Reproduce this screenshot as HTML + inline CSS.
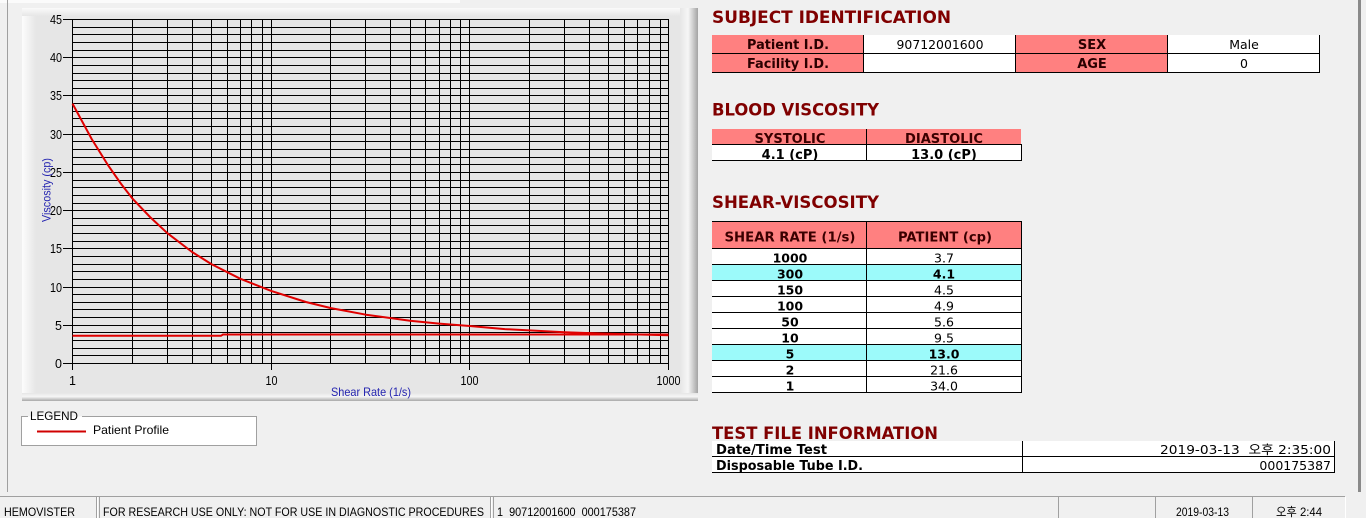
<!DOCTYPE html>
<html><head><meta charset="utf-8">
<style>
html,body{margin:0;padding:0;background:#f0f0f0;}
body{width:1366px;height:518px;overflow:hidden;}
svg{display:block;}
.ls{font-family:"Liberation Sans",Arial,sans-serif;}
.dj{font-family:"DejaVu Sans","Liberation Sans","Noto Sans CJK KR",sans-serif;}
.kr{font-family:"Liberation Sans","Noto Sans CJK KR",sans-serif;}
.hd{font-family:"DejaVu Sans","Liberation Sans",sans-serif;font-weight:bold;font-size:17px;fill:#800000;}
</style></head>
<body>
<svg width="1366" height="518" viewBox="0 0 1366 518" xmlns="http://www.w3.org/2000/svg">
<defs>
<linearGradient id="gl" x1="0" y1="0" x2="1" y2="0"><stop offset="0" stop-color="#fcfcfc"/><stop offset="1" stop-color="#e6e6e6"/></linearGradient>
<linearGradient id="gt" x1="0" y1="0" x2="0" y2="1"><stop offset="0" stop-color="#fafafa"/><stop offset="1" stop-color="#e6e6e6"/></linearGradient>
<linearGradient id="gr" x1="0" y1="0" x2="1" y2="0"><stop offset="0" stop-color="#e6e6e6"/><stop offset="0.45" stop-color="#f6f6f6"/><stop offset="1" stop-color="#a4a4a4"/></linearGradient>
<linearGradient id="gb" x1="0" y1="0" x2="0" y2="1"><stop offset="0" stop-color="#e6e6e6"/><stop offset="0.45" stop-color="#f6f6f6"/><stop offset="1" stop-color="#a8a8a8"/></linearGradient>
</defs>
<rect x="0" y="0" width="1366" height="518" fill="#f0f0f0"/>
<rect x="0" y="0" width="460" height="3" fill="#fbfbfb"/>
<!-- window edges -->
<rect x="7" y="0" width="1" height="492" fill="#a0a0a0"/>
<rect x="1358" y="0" width="3" height="492" fill="#8a8a8a"/>

<!-- chart panel -->
<rect x="22" y="8" width="676" height="393" fill="#e6e6e6"/>
<rect x="22" y="8" width="14" height="393" fill="url(#gl)"/>
<rect x="22" y="8" width="676" height="8" fill="url(#gt)"/>
<rect x="680" y="8" width="18" height="393" fill="url(#gr)"/>
<rect x="22" y="393" width="676" height="8" fill="url(#gb)"/>

<!-- grid -->
<path stroke="#000" stroke-width="1" fill="none" d="
M72,19.5H669M72,27.5H669M72,34.5H669M72,42.5H669M72,50.5H669M72,57.5H669M72,65.5H669M72,73.5H669M72,80.5H669M72,88.5H669
M72,95.5H669M72,103.5H669M72,111.5H669M72,118.5H669M72,126.5H669M72,134.5H669M72,141.5H669M72,149.5H669M72,157.5H669M72,164.5H669
M72,172.5H669M72,180.5H669M72,187.5H669M72,195.5H669M72,203.5H669M72,210.5H669M72,218.5H669M72,225.5H669M72,233.5H669M72,241.5H669
M72,248.5H669M72,256.5H669M72,264.5H669M72,271.5H669M72,279.5H669M72,287.5H669M72,294.5H669M72,302.5H669M72,309.5H669M72,317.5H669
M72,325.5H669M72,332.5H669M72,340.5H669M72,348.5H669M72,355.5H669M72,363.5H669
M72.5,19V364M132.5,19V364M167.5,19V364M192.5,19V364M211.5,19V364M227.5,19V364M240.5,19V364M251.5,19V364M262.5,19V364M271.5,19V364
M330.5,19V364M365.5,19V364M390.5,19V364M410.5,19V364M425.5,19V364M439.5,19V364M450.5,19V364M460.5,19V364M469.5,19V364
M529.5,19V364M564.5,19V364M589.5,19V364M608.5,19V364M624.5,19V364M637.5,19V364M649.5,19V364M660.5,19V364M668.5,19V364
"/>
<!-- ticks -->
<path stroke="#000" stroke-width="1" fill="none" d="M63,19.5H72M63,57.5H72M63,95.5H72M63,134.5H72M63,172.5H72M63,210.5H72M63,248.5H72M63,287.5H72M63,325.5H72M63,363.5H72
M72.5,364V370M271.5,364V370M469.5,364V370M668.5,364V370"/>
<g class="ls" font-size="12.5" fill="#000" text-anchor="end">
<text x="62" y="24" textLength="12" lengthAdjust="spacingAndGlyphs">45</text>
<text x="62" y="62" textLength="12" lengthAdjust="spacingAndGlyphs">40</text>
<text x="62" y="100" textLength="12" lengthAdjust="spacingAndGlyphs">35</text>
<text x="62" y="139" textLength="12" lengthAdjust="spacingAndGlyphs">30</text>
<text x="62" y="177" textLength="12" lengthAdjust="spacingAndGlyphs">25</text>
<text x="62" y="215" textLength="12" lengthAdjust="spacingAndGlyphs">20</text>
<text x="62" y="253" textLength="12" lengthAdjust="spacingAndGlyphs">15</text>
<text x="62" y="292" textLength="12" lengthAdjust="spacingAndGlyphs">10</text>
<text x="62" y="330">5</text>
<text x="62" y="368">0</text>
</g>
<g class="ls" font-size="12.5" fill="#000" text-anchor="middle">
<text x="72.5" y="385">1</text>
<text x="271.5" y="385" textLength="12" lengthAdjust="spacingAndGlyphs">10</text>
<text x="469.5" y="385" textLength="18" lengthAdjust="spacingAndGlyphs">100</text>
<text x="668.5" y="385" textLength="24" lengthAdjust="spacingAndGlyphs">1000</text>
</g>
<text class="ls" font-size="12" fill="#2424b0" x="331" y="396" textLength="80" lengthAdjust="spacingAndGlyphs">Shear Rate (1/s)</text>
<text class="ls" font-size="12" fill="#2424b0" transform="translate(50.5,222) rotate(-90)" x="0" y="0" textLength="64" lengthAdjust="spacingAndGlyphs">Viscosity (cp)</text>

<!-- series -->
<path fill="none" stroke="#e00000" stroke-width="2" stroke-linejoin="round" d="M72.5,103.6 L91.75,139.1 L107.5,164.4 L120.8,183.5 L132.3,198.4 L150,217 L167.4,233.2 L192.1,252.0 L211.4,264.1 L240.4,278.8 L271.2,290.9 L305.9,302.0 L331,308.1 L366,314.7 L410,320.7 L439.1,323.6 L469.8,326.0 L504.8,329.1 L564.6,332.2 L608.7,333.7 L668.5,335.2"/>
<path fill="none" stroke="#e00000" stroke-width="2" d="M72.5,335.8 H221 L223,334.5 H668.5"/>

<!-- legend -->
<rect x="21.5" y="416.5" width="235" height="29" fill="#ffffff"/>
<path fill="none" stroke="#a0a0a0" d="M28,416.5H21.5V445.5H256.5V416.5H82"/>
<text class="ls" font-size="12" fill="#000" x="30" y="420" textLength="48" lengthAdjust="spacingAndGlyphs">LEGEND</text>
<path stroke="#d00000" stroke-width="2" d="M37,431.5H86"/>
<text class="ls" font-size="12" fill="#000" x="93" y="434" textLength="76" lengthAdjust="spacingAndGlyphs">Patient Profile</text>

<!-- SUBJECT IDENTIFICATION -->
<text class="hd" x="712" y="23" textLength="239" lengthAdjust="spacingAndGlyphs">SUBJECT IDENTIFICATION</text>
<rect x="712" y="35" width="151" height="38" fill="#ff8080"/>
<rect x="863" y="35" width="152" height="38" fill="#ffffff"/>
<rect x="1015" y="35" width="152" height="38" fill="#ff8080"/>
<rect x="1167" y="35" width="153" height="38" fill="#ffffff"/>
<path stroke="#000" fill="none" d="M712,53.5H1320M712,72.5H1320M863.5,35V73M1015.5,35V73M1167.5,35V73M1319.5,35V73"/>
<g class="dj" text-anchor="middle">
<text x="788" y="49" font-size="13" font-weight="bold" fill="#2a0000" textLength="82" lengthAdjust="spacingAndGlyphs">Patient I.D.</text>
<text x="788" y="68" font-size="13" font-weight="bold" fill="#2a0000" textLength="82" lengthAdjust="spacingAndGlyphs">Facility I.D.</text>
<text x="940" y="49" font-size="12.5" fill="#000" textLength="87" lengthAdjust="spacingAndGlyphs">90712001600</text>
<text x="1092" y="49" font-size="13" font-weight="bold" fill="#2a0000">SEX</text>
<text x="1092" y="68" font-size="13" font-weight="bold" fill="#2a0000">AGE</text>
<text x="1244" y="49" font-size="12.5" fill="#000">Male</text>
<text x="1244" y="68" font-size="12.5" fill="#000">0</text>
</g>

<!-- BLOOD VISCOSITY -->
<text class="hd" x="712" y="115.5" textLength="167" lengthAdjust="spacingAndGlyphs">BLOOD VISCOSITY</text>
<rect x="712" y="129" width="309" height="16" fill="#ff8080"/>
<rect x="712" y="145" width="309" height="15" fill="#ffffff"/>
<path stroke="#000" fill="none" d="M712,144.5H1022M712,160.5H1022M866.5,129V161M1021.5,145V161"/>
<g class="dj" text-anchor="middle" font-weight="bold" font-size="13">
<text x="790" y="143" fill="#3a0000" textLength="71" lengthAdjust="spacingAndGlyphs">SYSTOLIC</text>
<text x="944" y="143" fill="#3a0000" textLength="78" lengthAdjust="spacingAndGlyphs">DIASTOLIC</text>
<text x="790" y="159" fill="#000">4.1 (cP)</text>
<text x="944" y="159" fill="#000">13.0 (cP)</text>
</g>

<!-- SHEAR-VISCOSITY -->
<text class="hd" x="712" y="208" textLength="167" lengthAdjust="spacingAndGlyphs">SHEAR-VISCOSITY</text>
<rect x="712" y="222" width="309" height="26" fill="#ff8080"/>
<rect x="712" y="248" width="309" height="144" fill="#ffffff"/>
<rect x="712" y="265" width="309" height="15" fill="#9cfafa"/>
<rect x="712" y="345" width="309" height="15" fill="#9cfafa"/>
<path stroke="#000" fill="none" d="M712,221.5H1022M712,248.5H1022M712,264.5H1022M712,280.5H1022M712,296.5H1022M712,312.5H1022M712,328.5H1022M712,344.5H1022M712,360.5H1022M712,376.5H1022M712,392.5H1022M866.5,222V393M1021.5,222V393"/>
<g class="dj" text-anchor="middle">
<text x="790" y="241.5" font-size="13" font-weight="bold" fill="#3a0000" textLength="131" lengthAdjust="spacingAndGlyphs">SHEAR RATE (1/s)</text>
<text x="945" y="241.5" font-size="13" font-weight="bold" fill="#3a0000" textLength="94" lengthAdjust="spacingAndGlyphs">PATIENT (cp)</text>
<g font-size="12.5" font-weight="bold" fill="#000">
<text x="790" y="262.5">1000</text>
<text x="790" y="278.5">300</text>
<text x="790" y="294.5">150</text>
<text x="790" y="310.5">100</text>
<text x="790" y="326.5">50</text>
<text x="790" y="342.5">10</text>
<text x="790" y="358.5">5</text>
<text x="790" y="374.5">2</text>
<text x="790" y="390.5">1</text>
</g>
<g font-size="12.5" fill="#000">
<text x="944" y="262.5">3.7</text>
<text x="944" y="278.5" font-weight="bold">4.1</text>
<text x="944" y="294.5">4.5</text>
<text x="944" y="310.5">4.9</text>
<text x="944" y="326.5">5.6</text>
<text x="944" y="342.5">9.5</text>
<text x="944" y="358.5" font-weight="bold">13.0</text>
<text x="944" y="374.5">21.6</text>
<text x="944" y="390.5">34.0</text>
</g>
</g>

<!-- TEST FILE INFORMATION -->
<text class="hd" x="712" y="439" textLength="226" lengthAdjust="spacingAndGlyphs">TEST FILE INFORMATION</text>
<rect x="712" y="441" width="622" height="32" fill="#ffffff"/>
<path stroke="#000" fill="none" d="M712,456.5H1335M712,472.5H1335M1022.5,441V473M1334.5,441V473"/>
<g class="dj" font-size="13" font-weight="bold" fill="#000">
<text x="716" y="454" textLength="111" lengthAdjust="spacingAndGlyphs">Date/Time Test</text>
<text x="716" y="470" textLength="147" lengthAdjust="spacingAndGlyphs">Disposable Tube I.D.</text>
</g>
<g class="dj" font-size="12.5" fill="#000" text-anchor="end">
<text x="1331" y="454" textLength="171" lengthAdjust="spacingAndGlyphs" xml:space="preserve">2019-03-13  오후 2:35:00</text>
<text x="1331" y="470">000175387</text>
</g>

<!-- status bar -->
<path stroke="#a0a0a0" fill="none" d="M0,496.5H1345M96.5,497V518M99.5,497V518M490.5,497V518M493.5,497V518M1058.5,497V518M1155.5,497V518M1252.5,497V518"/>
<path stroke="#ffffff" fill="none" d="M97.5,497V518M491.5,497V518M1345.5,497V518"/>
<g class="kr" font-size="12" fill="#000">
<text x="4" y="516" textLength="71" lengthAdjust="spacingAndGlyphs">HEMOVISTER</text>
<text x="103" y="516" textLength="381" lengthAdjust="spacingAndGlyphs">FOR RESEARCH USE ONLY: NOT FOR USE IN DIAGNOSTIC PROCEDURES</text>
<text x="497" y="516" textLength="139" lengthAdjust="spacingAndGlyphs" xml:space="preserve">1  90712001600  000175387</text>
<text x="1176" y="516" textLength="53" lengthAdjust="spacingAndGlyphs">2019-03-13</text>
<text x="1276" y="516" textLength="46" lengthAdjust="spacingAndGlyphs">오후 2:44</text>
</g>
</svg>
</body></html>
